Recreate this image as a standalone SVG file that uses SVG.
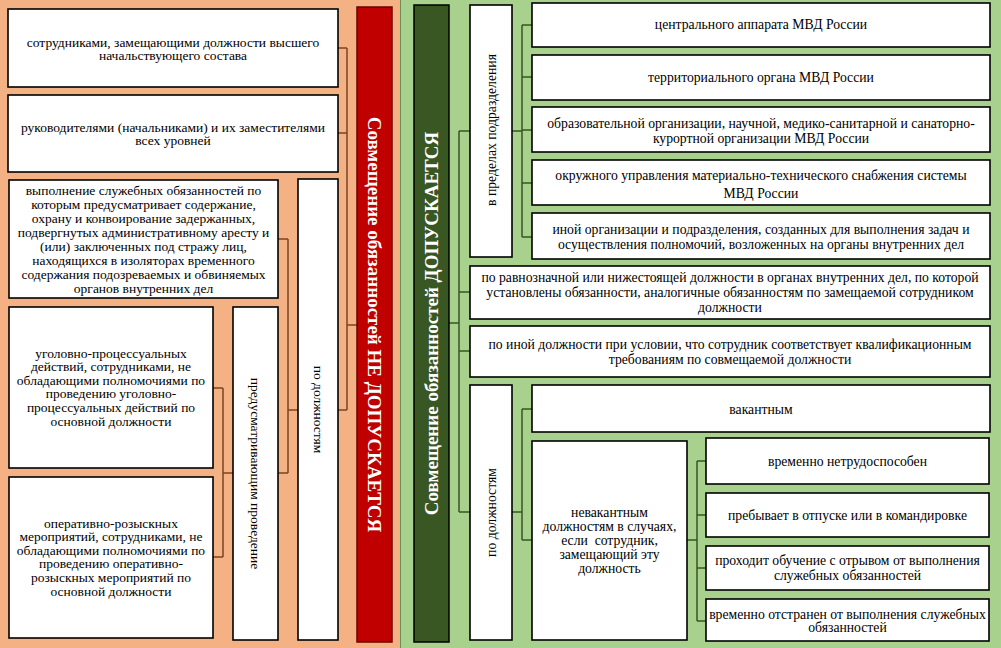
<svg xmlns="http://www.w3.org/2000/svg" width="1001" height="648" viewBox="0 0 1001 648">
<style>
.box{fill:#ffffff;stroke:#000000;stroke-width:1.6}
.t{font-family:"Liberation Serif","Times New Roman",serif;font-size:13.5px;fill:#000;text-anchor:middle;dominant-baseline:central}
.tr{font-family:"Liberation Serif","Times New Roman",serif;font-size:13.7px;fill:#000;text-anchor:middle;dominant-baseline:central}
.big{font-family:"Liberation Serif","Times New Roman",serif;font-size:19px;font-weight:bold;fill:#ffffff;text-anchor:middle;dominant-baseline:central}
.cl{fill:none;stroke:#7a4420;stroke-width:1.5}
.cr{fill:none;stroke:#375623;stroke-width:1.5}
</style>
<rect x="0" y="0" width="400" height="648" fill="#f4b183"/>
<rect x="400" y="0" width="601" height="648" fill="#a9d18e"/>
<line x1="400.5" y1="0" x2="400.5" y2="648" stroke="#6e8f55" stroke-width="1"/>

<g id="connectors">
<path class="cl" d="M338,48H347M338,133H347M347,48V410M338,410H347M347,325H357"/>
<path class="cl" d="M278,239H288M288,239V473M288,410H298M278,473H288"/>
<path class="cl" d="M213,388H223M213,557H223M223,388V557M223,473H233"/>
<path class="cr" d="M449,323H459M459,131V512M459,131H470M459,292H470M459,351H470M459,512H470"/>
<path class="cr" d="M512,131H522M522,25V237M522,25H532M522,77H532M522,130H532M522,183H532M522,237H532"/>
<path class="cr" d="M512,512H522M522,409V540M522,409H532M522,540H532"/>
<path class="cr" d="M687,540H697M697,461V621M697,461H706M697,515H706M697,568H706M697,621H706"/>
</g>

<g id="ne-bar">
<rect x="357" y="7" width="35" height="635" fill="#c00000" stroke="#6b0000" stroke-width="1.5"/>
<text class="big" transform="translate(374.5,324.5) rotate(90)">Совмещение обязанностей НЕ ДОПУСКАЕТСЯ</text>
</g>
<g id="l-box1">
<rect class="box" x="8" y="9" width="330" height="78"/>
<text class="t" x="173" y="42">сотрудниками, замещающими должности высшего</text>
<text class="t" x="173" y="55">начальствующего состава</text>
</g>
<g id="l-box2">
<rect class="box" x="8" y="95" width="330" height="77"/>
<text class="t" x="173" y="127">руководителями (начальниками) и их заместителями</text>
<text class="t" x="173" y="140">всех уровней</text>
</g>
<g id="l-box3">
<rect class="box" x="9" y="180" width="269" height="118"/>
<text class="t" x="143.5" y="190">выполнение служебных обязанностей по</text>
<text class="t" x="143.5" y="204">которым предусматривает содержание,</text>
<text class="t" x="143.5" y="218">охрану и конвоирование задержанных,</text>
<text class="t" x="143.5" y="232">подвергнутых административному аресту и</text>
<text class="t" x="143.5" y="246">(или) заключенных под стражу лиц,</text>
<text class="t" x="143.5" y="260">находящихся в изоляторах временного</text>
<text class="t" x="143.5" y="274">содержания подозреваемых и обвиняемых</text>
<text class="t" x="143.5" y="288">органов внутренних дел</text>
</g>
<g id="l-box4">
<rect class="box" x="9" y="307" width="204" height="161"/>
<text class="t" x="111" y="353">уголовно-процессуальных</text>
<text class="t" x="111" y="366.6">действий, сотрудниками, не</text>
<text class="t" x="111" y="380.2">обладающими полномочиями по</text>
<text class="t" x="111" y="393.8">проведению уголовно-</text>
<text class="t" x="111" y="407.4">процессуальных действий по</text>
<text class="t" x="111" y="421">основной должности</text>
</g>
<g id="l-box5">
<rect class="box" x="9" y="477" width="204" height="161"/>
<text class="t" x="111" y="523">оперативно-розыскных</text>
<text class="t" x="111" y="536.6">мероприятий, сотрудниками, не</text>
<text class="t" x="111" y="550.2">обладающими полномочиями по</text>
<text class="t" x="111" y="563.8">проведению оперативно-</text>
<text class="t" x="111" y="577.4">розыскных мероприятий по</text>
<text class="t" x="111" y="591">основной должности</text>
</g>
<g id="l-provedenie">
<rect class="box" x="233" y="307" width="45" height="333"/>
<text class="t" transform="translate(255.5,473.5) rotate(90)">предусматривающим проведение</text>
</g>
<g id="l-po-dolzh">
<rect class="box" x="298" y="179" width="40" height="461"/>
<text class="t" transform="translate(318,409.5) rotate(90)">по должностям</text>
</g>

<g id="da-bar">
<rect x="414" y="5" width="35" height="637" fill="#385723" stroke="#000" stroke-width="1.5"/>
<text class="big" transform="translate(431.5,323.5) rotate(-90)">Совмещение обязанностей ДОПУСКАЕТСЯ</text>
</g>
<g id="r-predely">
<rect class="box" x="470" y="5" width="42" height="252"/>
<text class="tr" transform="translate(491,130) rotate(-90)">в пределах подразделения</text>
</g>
<g id="r-b1">
<rect class="box" x="532" y="3" width="458" height="44"/>
<text class="tr" x="761" y="24">центрального аппарата МВД России</text>
</g>
<g id="r-b2">
<rect class="box" x="532" y="55" width="458" height="45"/>
<text class="tr" x="761" y="77">территориального органа МВД России</text>
</g>
<g id="r-b3">
<rect class="box" x="532" y="107" width="458" height="45"/>
<text class="tr" x="761" y="123">образовательной организации, научной, медико-санитарной и санаторно-</text>
<text class="tr" x="761" y="138">курортной организации МВД России</text>
</g>
<g id="r-b4">
<rect class="box" x="532" y="160" width="458" height="45"/>
<text class="tr" x="761" y="175">окружного управления материально-технического снабжения системы</text>
<text class="tr" x="761" y="193">МВД России</text>
</g>
<g id="r-b5">
<rect class="box" x="532" y="213" width="458" height="46"/>
<text class="tr" x="761" y="229">иной организации и подразделения, созданных для выполнения задач и</text>
<text class="tr" x="761" y="244">осуществления полномочий, возложенных на органы внутренних дел</text>
</g>
<g id="r-ravno">
<rect class="box" x="470" y="266" width="520" height="53"/>
<text class="tr" x="730" y="277">по равнозначной или нижестоящей должности в органах внутренних дел, по которой</text>
<text class="tr" x="730" y="292">установлены обязанности, аналогичные обязанностям по замещаемой сотрудником</text>
<text class="tr" x="730" y="307">должности</text>
</g>
<g id="r-inoy">
<rect class="box" x="470" y="326" width="520" height="51"/>
<text class="tr" x="730" y="344">по иной должности при условии, что сотрудник соответствует квалификационным</text>
<text class="tr" x="730" y="359">требованиям по совмещаемой должности</text>
</g>
<g id="r-po-dolzh">
<rect class="box" x="470" y="385" width="42" height="255"/>
<text class="tr" transform="translate(491,512.5) rotate(-90)">по должностям</text>
</g>
<g id="r-vakant">
<rect class="box" x="532" y="385" width="458" height="47"/>
<text class="tr" x="761" y="409">вакантным</text>
</g>
<g id="r-nevakant">
<rect class="box" x="532" y="441" width="155" height="199"/>
<text class="tr" x="609.5" y="512">невакантным</text>
<text class="tr" x="609.5" y="526">должностям в случаях,</text>
<text class="tr" x="609.5" y="540" xml:space="preserve">если  сотрудник,</text>
<text class="tr" x="609.5" y="554">замещающий эту</text>
<text class="tr" x="609.5" y="568">должность</text>
</g>
<g id="r-c1">
<rect class="box" x="706" y="438" width="283" height="46"/>
<text class="tr" x="847.5" y="461">временно нетрудоспособен</text>
</g>
<g id="r-c2">
<rect class="box" x="706" y="493" width="283" height="44"/>
<text class="tr" x="847.5" y="515">пребывает в отпуске или в командировке</text>
</g>
<g id="r-c3">
<rect class="box" x="706" y="546" width="283" height="44"/>
<text class="tr" x="847.5" y="560">проходит обучение с отрывом от выполнения</text>
<text class="tr" x="847.5" y="575">служебных обязанностей</text>
</g>
<g id="r-c4">
<rect class="box" x="706" y="599" width="283" height="42"/>
<text class="tr" x="847.5" y="614">временно отстранен от выполнения служебных</text>
<text class="tr" x="847.5" y="627">обязанностей</text>
</g>
</svg>
